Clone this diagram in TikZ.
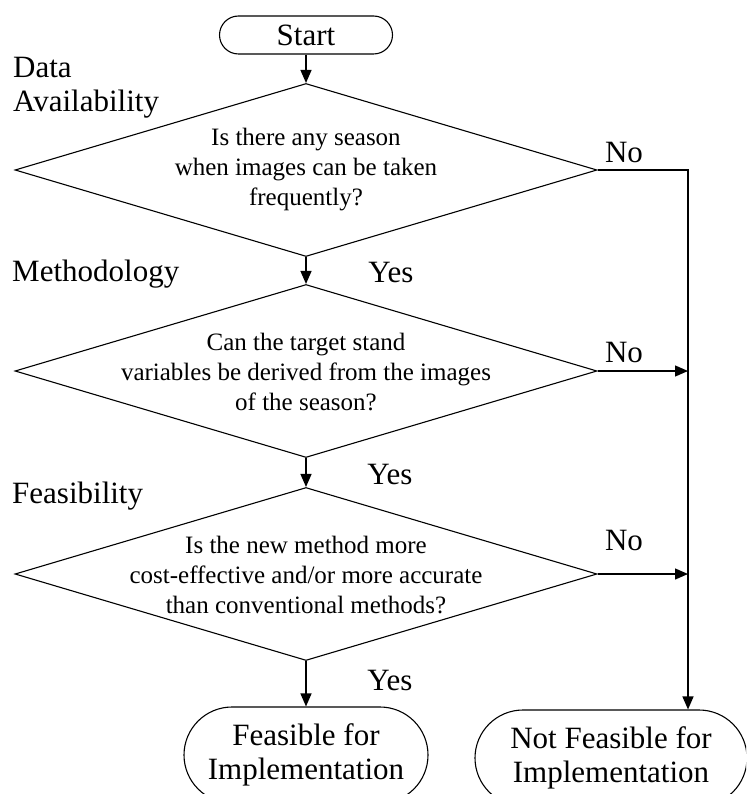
\documentclass[tikz,border=0pt]{standalone}
\usepackage{fontspec}
\setmainfont{Liberation Serif}
\usetikzlibrary{shapes.geometric,shapes.misc,arrows.meta}

\begin{document}
\begin{tikzpicture}[x=1pt,y=-1pt,
    big/.style={font=\fontsize{31}{34}\selectfont},
    ask/.style={font=\fontsize{25}{30}\selectfont, align=center},
    term/.style={rounded rectangle, draw, line width=1.1pt, inner sep=0pt, big, align=center},
    choice/.style={diamond, draw, line width=1.1pt, inner sep=0pt, aspect=3.35,
      minimum width=582pt, minimum height=173pt},
    flow/.style={line width=1.3pt, -{Triangle[width=11pt,length=13pt]}}
  ]
    \useasboundingbox (0,0) rectangle (746,794); % page size
    \clip (0,0) rectangle (746,794);

    \node[term, minimum width=173pt, minimum height=38pt] (start) at (306,35) {Start};

    % the three questions
    \node[choice] (d1) at (306,170) {};
    \node[ask] (q1) at (306,170) {Is there any season\\when images can be taken\\frequently?};
    \node[choice] (d2) at (306,371) {};
    \node[ask] (q2) at (306,372) {Can the target stand\\variables be derived from the images\\of the season?};
    \node[choice] (d3) at (306,574) {};
    \node[ask] (q3) at (306,575) {Is the new method more\\cost-effective and/or more accurate\\than conventional methods?};

    \node[term, minimum width=244pt, minimum height=96pt] (ok) at (306,755) {Feasible for\\Implementation};
    \node[term, minimum width=272pt, minimum height=96pt] (notok) at (611,758) {Not Feasible for\\Implementation};

    % stage names on the left
    \node[big, anchor=west, align=left, inner sep=0pt] (avail) at (13,88) {Data\\Availability};
    \node[big, anchor=west, inner sep=0pt] (method) at (12,274) {Methodology};
    \node[big, anchor=west, inner sep=0pt] (feas) at (12,496) {Feasibility};

    % answers
    \node[big] (yes1) at (391,273) {Yes};
    \node[big] (yes2) at (390,474) {Yes};
    \node[big] (yes3) at (390,680) {Yes};
    \node[big] (no1) at (624,153) {No};
    \node[big] (no2) at (624,353) {No};
    \node[big] (no3) at (624,540) {No};

    \draw[flow] (start.south) -- (d1.north);
    \draw[flow] (d1.south) -- (d2.north);
    \draw[flow] (d2.south) -- (d3.north);
    \draw[flow] (d3.south) -- (ok.north);

    \coordinate (turn) at (688,170); % corner of the "No" line
    \draw[flow] (d1.east) -- (turn) -- (turn |- notok.north);
    \draw[flow] (d2.east) -- (d2.east -| turn);
    \draw[flow] (d3.east) -- (d3.east -| turn);
\end{tikzpicture}
\end{document}
